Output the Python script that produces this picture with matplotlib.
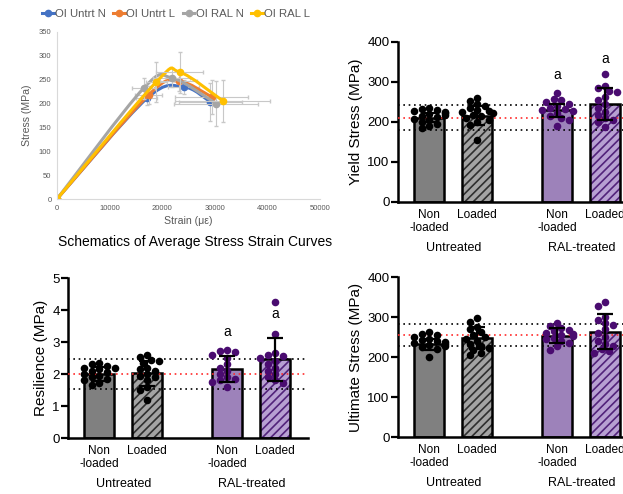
import numpy as np
import matplotlib
matplotlib.use('Agg')
import matplotlib.pyplot as plt
from matplotlib.path import Path
from matplotlib.patches import PathPatch
from matplotlib.lines import Line2D
from matplotlib.transforms import blended_transform_factory

plt.rcParams['font.family'] = ['Liberation Sans', 'DejaVu Sans']
plt.rcParams['hatch.linewidth'] = 1.2

# ---- stress-strain curves (strain in microstrain, stress in MPa) ----
curve_names = ['OI Untrt N', 'OI Untrt L', 'OI RAL N', 'OI RAL L']
curve_colors = ['#4472C4', '#ED7D31', '#A5A5A5', '#FFC000']
strain = [
    [0, 17100, 24050, 29100],
    [0, 17400, 23100, 29400],
    [0, 16450, 21800, 30250],
    [0, 18850, 23300, 31500],
]
stress = [
    [0, 211, 235, 204],
    [0, 218, 247, 214],
    [0, 232, 254, 200],
    [0, 245, 266, 206],
]
strain_err = [
    [0, 2000, 3000, 6000],
    [0, 2500, 3500, 7000],
    [0, 2200, 3500, 8000],
    [0, 2000, 4500, 9000],
]
stress_err = [
    [0, 15, 15, 40],
    [0, 18, 20, 35],
    [0, 22, 20, 48],
    [0, 42, 43, 44],
]

# ---- bar panels ----
group_labels = ['Non\n-loaded', 'Loaded', 'Non\n-loaded', 'Loaded']
treat_labels = ['Untreated', 'RAL-treated']

yield_pts = [
    [235, 232, 230, 228, 226, 222, 220, 218, 215, 212, 208, 205, 200, 195, 190, 184],
    [260, 252, 245, 240, 236, 230, 228, 225, 222, 218, 214, 210, 205, 200, 192, 155],
    [272, 258, 255, 250, 245, 240, 236, 232, 230, 228, 222, 215, 210, 205, 190],
    [320, 290, 285, 278, 275, 262, 255, 245, 235, 225, 218, 210, 205, 200, 188],
]
yield_mean = [211, 216, 229, 244]
yield_sd = [12, 24, 16, 40]
yield_ref = [243, 211, 180]

resil_pts = [
    [2.35, 2.3, 2.25, 2.2, 2.2, 2.15, 2.1, 2.05, 2.0, 1.95, 1.9, 1.85, 1.8, 1.72, 1.65],
    [2.6, 2.52, 2.45, 2.4, 2.35, 2.2, 2.15, 2.1, 2.0, 1.95, 1.9, 1.8, 1.6, 1.5, 1.2],
    [2.75, 2.72, 2.68, 2.6, 2.5, 2.3, 2.2, 2.1, 2.0, 1.9, 1.85, 1.8, 1.75, 1.6],
    [4.25, 3.25, 2.65, 2.6, 2.55, 2.5, 2.4, 2.3, 2.2, 2.1, 2.0, 1.9, 1.8, 1.72],
]
resil_mean = [2.0, 2.02, 2.15, 2.46]
resil_sd = [0.22, 0.38, 0.4, 0.67]
resil_ref = [2.48, 2.0, 1.53]

ult_pts = [
    [262, 258, 255, 250, 245, 242, 240, 238, 235, 232, 230, 228, 225, 220, 200],
    [297, 288, 275, 270, 262, 255, 250, 245, 240, 232, 228, 222, 218, 210, 205],
    [285, 278, 272, 268, 265, 260, 258, 255, 252, 248, 245, 240, 235, 228, 218],
    [337, 328, 300, 292, 285, 280, 270, 260, 250, 240, 232, 228, 220, 215, 210],
]
ult_mean = [232, 248, 253, 263]
ult_sd = [14, 27, 19, 44]
ult_ref = [282, 255, 228]

yield_letters = ['', '', 'a', 'a']
resil_letters = ['', '', 'a', 'a']

fig = plt.figure(figsize=(6.23, 4.94), dpi=100)
W, H = 623, 494


def px_axes(left, top, width, height):
    return fig.add_axes([left / W, 1 - (top + height) / H, width / W, height / H])


def smooth_path(xs, ys):
    pts = np.column_stack([xs, ys]).astype(float)
    ext = np.vstack([pts[0], pts, pts[-1]])
    verts = [pts[0]]
    codes = [Path.MOVETO]
    for i in range(len(pts) - 1):
        p0, p1, p2, p3 = ext[i], ext[i + 1], ext[i + 2], ext[i + 3]
        verts += [p1 + (p2 - p0) / 6, p2 - (p3 - p1) / 6, p2]
        codes += [Path.CURVE4] * 3
    return Path(verts, codes)


# ---------------- top-left: stress strain ----------------
ax0 = px_axes(57, 32, 263, 167)
for i in range(4):
    ax0.add_patch(PathPatch(smooth_path(strain[i], stress[i]), facecolor='none',
                            edgecolor=curve_colors[i], lw=2.2, zorder=2 + i * 0.1))
    ax0.errorbar(strain[i], stress[i], xerr=strain_err[i], yerr=stress_err[i], fmt='none',
                 ecolor='#c8c8c8', elinewidth=0.8, capsize=1.5, zorder=2.05 + i * 0.1)
    ax0.plot(strain[i], stress[i], 'o', color=curve_colors[i], ms=4.5, zorder=2.08 + i * 0.1)
ax0.set_xlim(0, 50000)
ax0.set_ylim(0, 350)
ax0.set_xticks(range(0, 50001, 10000))
ax0.set_yticks(range(0, 351, 50))
for s in ['top', 'right']:
    ax0.spines[s].set_visible(False)
for s in ['left', 'bottom']:
    ax0.spines[s].set_color('#d9d9d9')
    ax0.spines[s].set_linewidth(0.8)
ax0.tick_params(length=0, labelsize=5.5, labelcolor='#595959', pad=4)
ax0.set_xlabel('Strain (με)', fontsize=7.6, color='#595959', labelpad=3)
ax0.set_ylabel('Stress (MPa)', fontsize=7.6, color='#595959', labelpad=5)

handles = [Line2D([], [], color=c, lw=2.2, marker='o', ms=4.5) for c in curve_colors]
fig.legend(handles, curve_names, loc='center', bbox_to_anchor=(176 / W, 1 - 14 / H), ncol=4,
           frameon=False, fontsize=8.2, labelcolor='#595959', handlelength=1.0,
           handletextpad=0.1, columnspacing=0.7, borderaxespad=0)
fig.text(195 / W, 1 - 242 / H, 'Schematics of Average Stress Strain Curves', fontsize=10,
         ha='center', va='center')

# ---------------- bar panels ----------------
xpos = [0, 1, 2.67, 3.67]
faces = ['#808080', '#a3a3a3', '#9d82ba', '#b7a0d2']
hatch_cols = ['#808080', '#2e2e2e', '#9d82ba', '#52237a']
hatches = [None, '////', None, '////']
dot_cols = ['black', 'black', '#4a0c70', '#4a0c70']


def swarm(vals, py, d=7.0):
    vals = np.asarray(vals, float)
    order = np.argsort(-vals)
    placed = []
    offs = np.zeros(len(vals))
    steps = [0, -1, 1, -2, 2, -3, 3, -4, 4]
    for i in order:
        y = vals[i] * py
        for k in steps:
            x = k * d * 0.55
            if all((x - px) ** 2 + (y - pyy) ** 2 >= (0.85 * d) ** 2 for px, pyy in placed):
                break
        placed.append((x, y))
        offs[i] = x
    return offs / 48.0


def bar_panel(ax, pts, means, sds, refs, ymax, ystep, ylabel, letters, letter_gap):
    for i in range(4):
        ax.bar(xpos[i], means[i], width=0.62, color=faces[i], hatch=hatches[i],
               edgecolor=hatch_cols[i], linewidth=0, zorder=2)
        ax.bar(xpos[i], means[i], width=0.62, fill=False, edgecolor='black',
               linewidth=1.8, zorder=3)
    for j, r in enumerate(refs):
        ax.axhline(r, ls=(0, (1, 2.2)), lw=1.2, color='#ff2a2a' if j == 1 else 'black', zorder=3.5)
    py = 160.0 / ymax
    for i in range(4):
        offs = swarm(pts[i], py)
        ax.scatter(xpos[i] + offs, pts[i], s=30, color=dot_cols[i], zorder=4, linewidths=0)
    ax.errorbar(xpos, means, yerr=sds, fmt='none', ecolor='black', elinewidth=1.6,
                capsize=6, capthick=1.6, zorder=5)
    for i in range(4):
        if letters[i]:
            ax.text(xpos[i], means[i] + sds[i] + letter_gap, letters[i], fontsize=10,
                    ha='center', va='center')
    ax.set_xlim(-0.65, 4.35)
    ax.set_ylim(0, ymax)
    ax.set_yticks(np.arange(0, ymax + ystep / 2, ystep))
    ax.set_xticks(xpos)
    ax.set_xticklabels(group_labels, fontsize=8.6, linespacing=1.1)
    ax.tick_params(axis='x', length=0, pad=5)
    ax.tick_params(axis='y', length=5, width=1.6, labelsize=9.5, pad=1)
    for s in ['top', 'right']:
        ax.spines[s].set_visible(False)
    for s in ['left', 'bottom']:
        ax.spines[s].set_linewidth(1.8)
    ax.set_ylabel(ylabel, fontsize=11, labelpad=3)
    tr = blended_transform_factory(ax.transData, ax.transAxes)
    ax.text((xpos[0] + xpos[1]) / 2, -46 / 160, treat_labels[0], transform=tr, fontsize=9,
            ha='center', va='center')
    ax.text((xpos[2] + xpos[3]) / 2, -46 / 160, treat_labels[1], transform=tr, fontsize=9,
            ha='center', va='center')


ax1 = px_axes(398, 42, 240, 160)
bar_panel(ax1, yield_pts, yield_mean, yield_sd, yield_ref, 400, 100,
          'Yield Stress (MPa)', yield_letters, 73)

ax2 = px_axes(68, 278, 240, 160)
bar_panel(ax2, resil_pts, resil_mean, resil_sd, resil_ref, 5, 1,
          'Resilience (MPa)', resil_letters, 0.75)

ax3 = px_axes(398, 277, 240, 160)
bar_panel(ax3, ult_pts, ult_mean, ult_sd, ult_ref, 400, 100,
          'Ultimate Stress (MPa)', ['', '', '', ''], 0)

fig.savefig('out.png', dpi=100)
